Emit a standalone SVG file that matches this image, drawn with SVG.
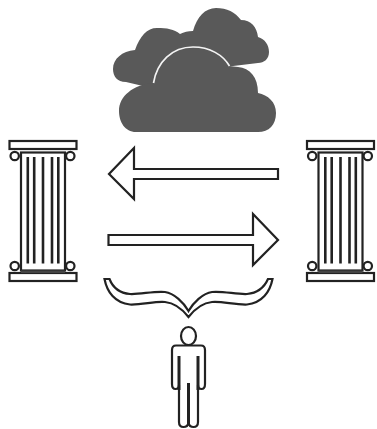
<svg xmlns="http://www.w3.org/2000/svg" width="377" height="429" viewBox="0 0 377 429">
<style>
.o{fill:#fff;stroke:#222;stroke-width:2.2}
.c{fill:#595959}
.f{fill:none;stroke:#222;stroke-width:2.6}
</style>
<defs>
<g id="col">
<rect class="o" x="9.500" y="141" width="67" height="8"/>
<rect class="o" x="9.500" y="273" width="67" height="8"/>
<circle class="o" cx="14.700" cy="156" r="4.200"/><circle class="o" cx="70.300" cy="156" r="4.200"/>
<circle class="o" cx="14.700" cy="266" r="4.200"/><circle class="o" cx="70.300" cy="266" r="4.200"/>
<rect class="o" x="21" y="152.500" width="44" height="118"/>
<path class="f" d="M27.800 157V263.500M34.200 157V263.500M43 157V263.500M52 157V263.500M58.300 157V263.500"/>
<path d="M21 270.500H65V273H21Z" fill="#444"/>
</g>
</defs>
<g id="cloud">
<path class="c" d="M126 82 C117 82 113 76 113 69 C113 59 122 51 135 50 C140 36 147 28 157 28 C167 28 174 29 180 34 C184 32 188 31 193 31 C197 17 205 8 216 8 C227 8 235 12 241 20 C251 20 257 27 258 37 C265 39 269 45 269 52 C269 59 264 63 258 63 L200 70 L160 90 Z"/>
<path class="c" d="M136 132 C125 132 119 122 119 111 C119 96 133 85 153 83 C157 62 172 47 193 47 C210 47 223 55 229 66 L238 67 C250 68 258 77 258 93 C268 95 276 102 276 113 C276 125 269 132 258 132 Z"/>
<path d="M153.500 83 C157 62 172 47 193 47 C210 47 223 55 229.500 66" fill="none" stroke="#f4f4f4" stroke-width="1.700"/>
</g>
<g id="column-left"><use href="#col"/></g>
<g id="column-right"><use href="#col" x="297.500"/></g>
<g id="connectors">
<path class="o" d="M278 169V179H134V199L109 174L134 148V169Z"/>
<path class="o" d="M108.500 235V245H253V265L278 240L253 214V235Z"/>
</g>
<g id="brace">
<path class="o" d="M104.500 279 C107 292 115 303 130 304.500 C142 305 155 301 165 302 C176 303 183 310 188.500 317 C194 310 201 303 212 302 C222 301 235 305 247 304.500 C262 303 270 292 272.500 279 H268 C264 288 258 293 247 294 C236 294.500 224 291 212 292 C203 293 193 303 188.500 311 C184 303 174 293 165 292 C153 291 141 294.500 130 294 C119 293 113 288 109.500 279 Z"/>
</g>
<g id="person">
<ellipse class="o" cx="188.500" cy="336" rx="7.500" ry="9"/>
<path class="o" d="M176 345.500 H201 C203.500 345.500 205 347.500 205 350 V384 C205 387 203.500 389 201.500 389 C199.500 389 198 387 198 385 V422 C198 425.500 196 427 193.500 427 C191 427 189 425.500 188.500 423 C188 425.500 186 427 183.500 427 C181 427 179 425.500 179 422 V385 C179 387 177.500 389 175.500 389 C173.500 389 172 387 172 384 V350 C172 347.500 173.500 345.500 176 345.500 Z"/>
<path d="M179 356V390M198 356V390M188.500 383V424" fill="none" stroke="#222" stroke-width="3"/>
</g>
</svg>
